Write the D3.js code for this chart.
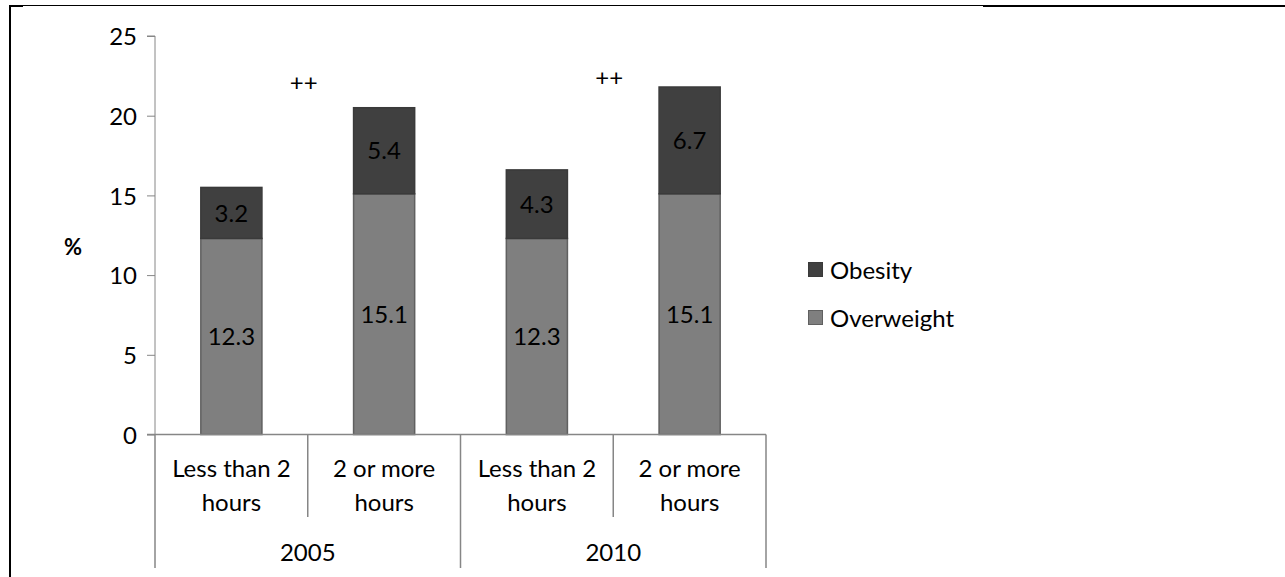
<!DOCTYPE html>
<html>
<head>
<meta charset="utf-8">
<script src="https://cdn.jsdelivr.net/npm/d3@7"></script>
<style>
  html, body { margin: 0; padding: 0; background: #fff; }
  svg { display: block; }
  text { font-family: Lato, "Open Sans", sans-serif; fill: #000; }
</style>
</head>
<body>
<svg id="chart" width="1285" height="577"></svg>
<script>
// Share of children overweight / obese by daily screen time
const years = ["2005", "2010"];
const screenTime = ["Less than 2 hours", "2 or more hours"];
const categories = ["2005|Less than 2 hours", "2005|2 or more hours", "2010|Less than 2 hours", "2010|2 or more hours"];
const overweight = [12.3, 15.1, 12.3, 15.1];
const obesity = [3.2, 5.4, 4.3, 6.7];
const seriesNames = ["Obesity", "Overweight"];
const yTicks = [0, 5, 10, 15, 20, 25];
// significance markers, placed between the two screen-time bars of each year
const marks = [{ year: "2005", text: "++" }, { year: "2010", text: "++" }];

const colors = { Overweight: "#7f7f7f", Obesity: "#404040" };
const strokes = { Overweight: "#606060", Obesity: "#3a3a3a" };
const axisColor = "#868686";
const fs = 24;

const svg = d3.select("#chart");

// outer frame fragments
svg.append("line").attr("x1", 10).attr("x2", 10).attr("y1", 5).attr("y2", 577)
  .attr("stroke", "#000").attr("stroke-width", 2);
svg.append("line").attr("x1", 9).attr("x2", 983).attr("y1", 5.5).attr("y2", 5.5)
  .attr("stroke", "#000").attr("stroke-width", 1);
svg.append("line").attr("x1", 9).attr("x2", 23).attr("y1", 6).attr("y2", 6)
  .attr("stroke", "#000").attr("stroke-width", 2);
svg.append("line").attr("x1", 983).attr("x2", 1285).attr("y1", 6).attr("y2", 6)
  .attr("stroke", "#000").attr("stroke-width", 2);

const x0 = 155, x1 = 766;
const y = d3.scaleLinear().domain([0, 25]).range([434.5, 36]);
const x = d3.scaleBand().domain(categories).range([x0, x1]).paddingInner(0).paddingOuter(0);
const step = x.bandwidth();
const barW = step / 2.5;

// y axis
const yAxis = d3.axisLeft(y).tickValues(yTicks).tickSize(8).tickPadding(10).tickFormat(d3.format("d"));
const gy = svg.append("g").attr("transform", `translate(${x0},0)`).call(yAxis);
gy.select(".domain").attr("stroke", axisColor).attr("d", `M-8,${y(25)}H0V${y(0)}`);
gy.selectAll(".tick line").attr("stroke", axisColor);
gy.selectAll(".tick text").attr("font-size", fs).attr("font-family", "Lato").attr("fill", "#000")
  .attr("dy", "0.36em");

// axis title
svg.append("text").attr("x", 73).attr("y", 247).attr("dy", "0.36em").attr("text-anchor", "middle")
  .attr("font-size", fs - 2).attr("font-weight", "bold").text("%");

// stacked bars
const rows = categories.map((c, i) => ({ cat: c, Overweight: overweight[i], Obesity: obesity[i] }));
const stack = d3.stack().keys(["Overweight", "Obesity"])(rows);
const gBars = svg.append("g");
stack.forEach(layer => {
  const key = layer.key;
  layer.forEach((d, i) => {
    const cx = x(categories[i]) + step / 2;
    gBars.append("rect")
      .attr("x", cx - barW / 2).attr("width", barW)
      .attr("y", y(d[1])).attr("height", y(d[0]) - y(d[1]))
      .attr("fill", colors[key]).attr("stroke", strokes[key]).attr("stroke-width", 1.5);
    gBars.append("text")
      .attr("x", cx).attr("y", (y(d[0]) + y(d[1])) / 2).attr("dy", "0.36em")
      .attr("text-anchor", "middle").attr("font-size", fs)
      .text(d3.format(".1f")(d.data[key]));
  });
});

// horizontal category axis with two label levels
const gx = svg.append("g");
gx.append("line").attr("x1", x0 - 8).attr("x2", x1).attr("y1", y(0)).attr("y2", y(0))
  .attr("stroke", axisColor).attr("stroke-width", 1.5);
categories.forEach((c, i) => {
  const left = x(c);
  const isGroupEdge = i % 2 === 0;
  gx.append("line").attr("x1", left).attr("x2", left).attr("y1", y(0)).attr("y2", isGroupEdge ? 568 : 517)
    .attr("stroke", axisColor).attr("stroke-width", 1.5);
  const label = c.split("|")[1];
  const lines = label === screenTime[0] ? ["Less than 2", "hours"] : ["2 or more", "hours"];
  lines.forEach((t, k) => {
    gx.append("text").attr("x", left + step / 2).attr("y", 468 + k * 34).attr("dy", "0.36em")
      .attr("text-anchor", "middle").attr("font-size", fs).text(t);
  });
});
gx.append("line").attr("x1", x1).attr("x2", x1).attr("y1", y(0)).attr("y2", 568)
  .attr("stroke", axisColor).attr("stroke-width", 1.5);
years.forEach((yr, j) => {
  const cx = x0 + step * (2 * j + 1);
  gx.append("text").attr("x", cx).attr("y", 552).attr("dy", "0.36em")
    .attr("text-anchor", "middle").attr("font-size", fs).text(yr);
});

// significance markers
const markY = { "2005": 82, "2010": 77 };
marks.forEach((m, j) => {
  const cx = x0 + step * (2 * j + 1) - 4;
  svg.append("text").attr("x", cx).attr("y", markY[m.year]).attr("dy", "0.36em")
    .attr("text-anchor", "middle").attr("font-size", fs).text(m.text);
});

// legend
const gl = svg.append("g");
seriesNames.forEach((s, i) => {
  const cy = 270 + i * 48;
  gl.append("rect").attr("x", 808.5).attr("y", cy - 7.5).attr("width", 14).attr("height", 14)
    .attr("fill", colors[s]).attr("stroke", strokes[s]).attr("stroke-width", 1);
  gl.append("text").attr("x", 830).attr("y", cy).attr("dy", "0.36em").attr("font-size", fs).text(s);
});
</script>
</body>
</html>
